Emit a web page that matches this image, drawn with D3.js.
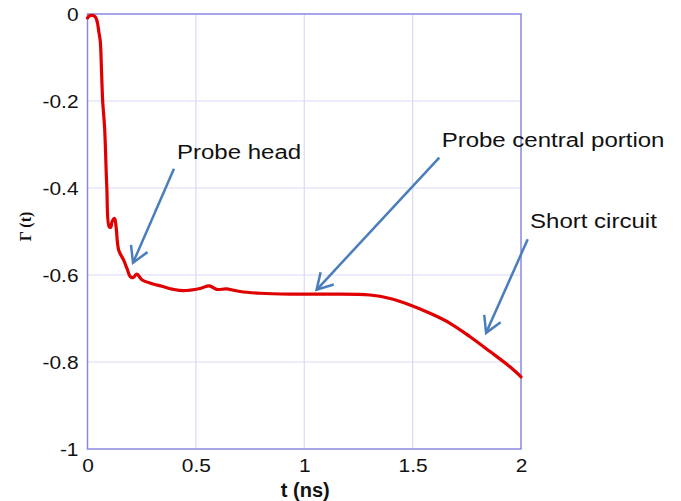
<!DOCTYPE html>
<html>
<head>
<meta charset="utf-8">
<script src="https://cdn.jsdelivr.net/npm/d3@7"></script>
<style>
  body { margin: 0; background: #fff; }
  svg { display: block; }
</style>
</head>
<body>
<svg id="chart" width="681" height="501"></svg>
<script>
// reflection coefficient trace
const tNs = [0.000, 0.010, 0.021, 0.035, 0.044, 0.052, 0.059, 0.065, 0.070, 0.079, 0.089, 0.100, 0.108, 0.113,
  0.125, 0.132, 0.144, 0.167, 0.182, 0.198, 0.210, 0.228, 0.251, 0.298, 0.344, 0.396, 0.442, 0.519, 0.562,
  0.596, 0.642, 0.704, 0.796, 0.934, 1.119, 1.303, 1.396, 1.488, 1.580, 1.673, 1.765, 1.857, 1.949, 2.000];
const gamma = [-0.009, -0.004, -0.003, -0.006, -0.016, -0.040, -0.063, -0.136, -0.200, -0.262, -0.397, -0.489, -0.490, -0.478,
  -0.470, -0.490, -0.543, -0.566, -0.585, -0.604, -0.606, -0.598, -0.611, -0.620, -0.626, -0.633, -0.636, -0.631, -0.625,
  -0.633, -0.632, -0.638, -0.642, -0.644, -0.644, -0.646, -0.654, -0.669, -0.688, -0.711, -0.742, -0.776, -0.811, -0.834];

const xTicks = [0, 0.5, 1, 1.5, 2];
const yTicks = [0, -0.2, -0.4, -0.6, -0.8, -1];

// annotations: label, label anchor, arrow start, arrow tip (data units)
const noteLabels = ['Probe head', 'Probe central portion', 'Short circuit'];
const noteText = [[0.413, -0.333], [1.634, -0.305], [2.042, -0.493]];
const noteFrom = [[0.399, -0.356], [1.623, -0.330], [2.031, -0.518]];
const noteTo = [[0.210, -0.572], [1.057, -0.634], [1.839, -0.733]];

const margin = {top: 14, right: 160, bottom: 52, left: 87.5};
const width = 681 - margin.left - margin.right;
const height = 501 - margin.top - margin.bottom;

const x = d3.scaleLinear().domain([0, 2]).range([0, width]);
const y = d3.scaleLinear().domain([-1, 0]).range([height, 0]);

const sans = 'Liberation Sans, Arial, sans-serif';

// the original picture is a bit wider than tall, so text is stretched sideways
const stretch = (sel, k) => sel.each(function() {
  const w = this.getComputedTextLength();
  d3.select(this).attr('textLength', w * k).attr('lengthAdjust', 'spacingAndGlyphs');
});

const svg = d3.select('#chart');
const g = svg.append('g').attr('transform', 'translate(' + margin.left + ',' + margin.top + ')');

// grid
g.append('g')
  .selectAll('line')
  .data(xTicks.slice(1, -1))
  .join('line')
  .attr('x1', d => x(d)).attr('x2', d => x(d))
  .attr('y1', 0).attr('y2', height)
  .attr('stroke', '#d9d9f6').attr('stroke-width', 1.2);

g.append('g')
  .selectAll('line')
  .data(yTicks.slice(1, -1))
  .join('line')
  .attr('x1', 0).attr('x2', width)
  .attr('y1', d => y(d)).attr('y2', d => y(d))
  .attr('stroke', '#d9d9f6').attr('stroke-width', 1.2);

// axes
const xAxis = d3.axisBottom(x).tickValues(xTicks).tickSize(0).tickPadding(10).tickFormat(d => String(d));
const yAxis = d3.axisLeft(y).tickValues(yTicks).tickSize(0).tickPadding(9).tickFormat(d => String(d));

const gx = g.append('g').attr('transform', 'translate(0,' + height + ')').call(xAxis);
const gy = g.append('g').call(yAxis);
[gx, gy].forEach(a => {
  a.select('.domain').remove();
  a.selectAll('text')
    .attr('font-family', sans)
    .attr('font-size', 19)
    .attr('fill', '#111');
  stretch(a.selectAll('text'), 1.1);
});
gx.selectAll('text').attr('dy', '0.68em');

// frame
g.append('rect')
  .attr('width', width).attr('height', height)
  .attr('fill', 'none')
  .attr('stroke', '#8888e0').attr('stroke-width', 1.5);

// trace
const data = tNs.map((t, i) => ({t: t, v: gamma[i]}));
const line = d3.line()
  .x(d => x(d.t))
  .y(d => y(d.v))
  .curve(d3.curveCatmullRom.alpha(0.5));

g.append('path')
  .datum(data)
  .attr('fill', 'none')
  .attr('stroke', '#e00000')
  .attr('stroke-width', 3.2)
  .attr('stroke-linejoin', 'round')
  .attr('stroke-linecap', 'round')
  .attr('d', line);

// annotations
const blue = '#4a7ebb';
noteLabels.forEach((lab, i) => {
  const x0 = x(noteFrom[i][0]), y0 = y(noteFrom[i][1]);
  const x1 = x(noteTo[i][0]), y1 = y(noteTo[i][1]);
  const ang = Math.atan2(y0 - y1, x0 - x1);
  const arm = 18, spread = Math.PI / 6;
  g.append('line')
    .attr('x1', x0).attr('y1', y0).attr('x2', x1).attr('y2', y1)
    .attr('stroke', blue).attr('stroke-width', 2.5);
  g.append('path')
    .attr('d', 'M' + (x1 + arm * Math.cos(ang - spread)) + ',' + (y1 + arm * Math.sin(ang - spread)) +
      'L' + x1 + ',' + y1 +
      'L' + (x1 + arm * Math.cos(ang + spread)) + ',' + (y1 + arm * Math.sin(ang + spread)))
    .attr('fill', 'none')
    .attr('stroke', blue).attr('stroke-width', 2.5)
    .attr('stroke-linejoin', 'miter');
  const tx = g.append('text')
    .attr('x', x(noteText[i][0])).attr('y', y(noteText[i][1]))
    .attr('font-family', sans)
    .attr('font-size', 20)
    .attr('fill', '#111')
    .text(lab);
  stretch(tx, 1.2);
});

// axis titles
svg.append('text')
  .attr('x', margin.left + width / 2 + 1).attr('y', 497)
  .attr('text-anchor', 'middle')
  .attr('font-family', sans)
  .attr('font-size', 20).attr('font-weight', 'bold')
  .attr('fill', '#111')
  .text('t (ns)');

svg.append('text')
  .attr('transform', 'translate(31,' + (margin.top + height / 2 - 5) + ') rotate(-90)')
  .attr('text-anchor', 'middle')
  .attr('font-family', 'Liberation Serif, Times New Roman, serif')
  .attr('font-size', 16).attr('font-weight', 'bold')
  .attr('fill', '#111')
  .text('Γ (t)');
</script>
</body>
</html>
